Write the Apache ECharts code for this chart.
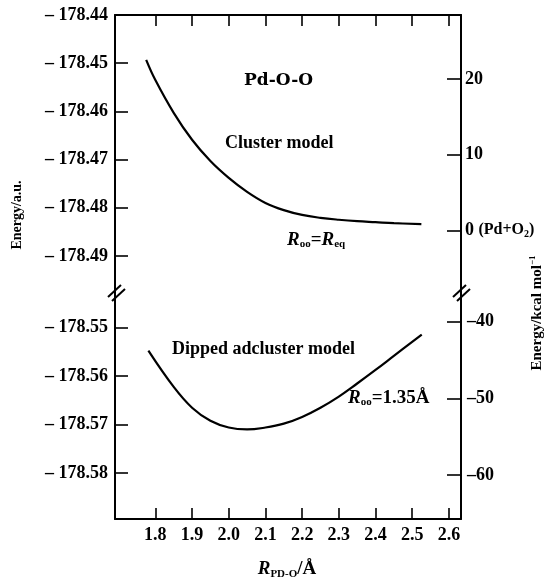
<!DOCTYPE html>
<html>
<head>
    <meta charset="utf-8">
    <title>Pd-O-O</title>
    <script src="https://cdn.jsdelivr.net/npm/echarts@6/dist/echarts.min.js"></script>
    <style>
        body { margin: 0; background: #fff; }
        #main { width: 557px; height: 580px; }
    </style>
</head>
<body>
<div id="main"></div>
<script type="text/javascript">
// data
var xTicks = [1.8, 1.9, 2.0, 2.1, 2.2, 2.3, 2.4, 2.5, 2.6];
var upperTicksAU = [-178.44, -178.45, -178.46, -178.47, -178.48, -178.49];
var lowerTicksAU = [-178.55, -178.56, -178.57, -178.58];
var upperTicksKcal = [20, 10, 0];
var lowerTicksKcal = [-40, -50, -60];

// cluster model (R_oo = R_eq)
var clusterR = [1.775, 1.80, 1.85, 1.90, 1.95, 2.00, 2.05, 2.10, 2.15, 2.20, 2.25, 2.30, 2.35, 2.40, 2.45, 2.525];
var clusterE = [-178.4493, -178.4535, -178.4603, -178.4659, -178.4703, -178.4738, -178.4767, -178.4790,
                -178.4805, -178.4815, -178.4821, -178.4825, -178.4828, -178.4830, -178.4832, -178.4834];

// dipped adcluster model (R_oo = 1.35 A)
var adR = [1.781, 1.85, 1.90, 1.95, 2.00, 2.05, 2.10, 2.15, 2.20, 2.25, 2.30, 2.35, 2.40, 2.45, 2.526];
var adE = [-178.5547, -178.5622, -178.5665, -178.5692, -178.5706, -178.5710, -178.5706, -178.5698,
           -178.5684, -178.5665, -178.5642, -178.5615, -178.5587, -178.5558, -178.5514];

function pairs(xs, ys) {
    var out = [];
    for (var i = 0; i < xs.length; i++) out.push([xs[i], ys[i]]);
    return out;
}

var FONT = 'Liberation Serif';
var black = '#000';
var lineAx = { show: true, onZero: false, lineStyle: { color: black, width: 2 } };
function tick(vals, len) {
    return { show: true, inside: true, length: len, customValues: vals, lineStyle: { color: black, width: 1.6 } };
}
var lblBase = { color: black, fontFamily: FONT, fontWeight: 'bold', fontSize: 18 };
function auFmt(v) { return '\u2013 ' + Math.abs(v).toFixed(2); }

var option = {
    animation: false,
    backgroundColor: '#fff',
    grid: [
        { left: 115, right: 96, top: 15, height: 278 },
        { left: 115, right: 96, top: 293, height: 226 }
    ],
    xAxis: [
        { gridIndex: 0, type: 'value', position: 'top', min: 1.69, max: 2.633,
          axisLine: lineAx, axisTick: tick(xTicks, 11), axisLabel: { show: false }, splitLine: { show: false } },
        { gridIndex: 1, type: 'value', position: 'bottom', min: 1.69, max: 2.633,
          axisLine: lineAx, axisTick: tick(xTicks, 11),
          axisLabel: Object.assign({ customValues: xTicks, margin: 7, formatter: function (v) { return v.toFixed(1); } }, lblBase),
          splitLine: { show: false } }
    ],
    yAxis: [
        { gridIndex: 0, type: 'value', position: 'left', min: -178.4977, max: -178.44,
          axisLine: lineAx, axisTick: tick(upperTicksAU, 13),
          axisLabel: Object.assign({ customValues: upperTicksAU, margin: 7, formatter: auFmt }, lblBase),
          splitLine: { show: false } },
        { gridIndex: 0, type: 'value', position: 'right', min: -8.3, max: 28.5,
          axisLine: lineAx, axisTick: tick(upperTicksKcal, 14),
          axisLabel: Object.assign({ customValues: upperTicksKcal, margin: 4,
              formatter: function (v) { return v === 0 ? '{b|0} {n|(Pd+O}{s|2}{n|)}' : String(v); },
              rich: {
                  b: { fontFamily: FONT, fontWeight: 'bold', fontSize: 18, color: black },
                  n: { fontFamily: FONT, fontWeight: 'bold', fontSize: 16, color: black },
                  s: { fontFamily: FONT, fontWeight: 'bold', fontSize: 10, color: black, verticalAlign: 'bottom', padding: [8, 0, 0, 0] }
              } }, lblBase),
          splitLine: { show: false } },
        { gridIndex: 1, type: 'value', position: 'left', min: -178.5895, max: -178.5428,
          axisLine: lineAx, axisTick: tick(lowerTicksAU, 13),
          axisLabel: Object.assign({ customValues: lowerTicksAU, margin: 7, formatter: auFmt }, lblBase),
          splitLine: { show: false } },
        { gridIndex: 1, type: 'value', position: 'right', min: -65.7, max: -36.3,
          axisLine: lineAx, axisTick: tick(lowerTicksKcal, 14),
          axisLabel: Object.assign({ customValues: lowerTicksKcal, margin: 6,
              formatter: function (v) { return '\u2013' + Math.abs(v); } }, lblBase),
          splitLine: { show: false } }
    ],
    series: [
        { name: 'Cluster model', type: 'line', xAxisIndex: 0, yAxisIndex: 0, smooth: 0.4, showSymbol: false,
          lineStyle: { color: black, width: 2.2 }, data: pairs(clusterR, clusterE) },
        { name: 'Dipped adcluster model', type: 'line', xAxisIndex: 1, yAxisIndex: 2, smooth: 0.4, showSymbol: false,
          lineStyle: { color: black, width: 2.2 }, data: pairs(adR, adE) }
    ],
    graphic: [
        // axis break marks
        { type: 'line', shape: { x1: 108, y1: 297, x2: 121, y2: 285 }, style: { stroke: black, lineWidth: 2 } },
        { type: 'line', shape: { x1: 112, y1: 301, x2: 125, y2: 289 }, style: { stroke: black, lineWidth: 2 } },
        { type: 'line', shape: { x1: 453, y1: 297, x2: 466, y2: 285 }, style: { stroke: black, lineWidth: 2 } },
        { type: 'line', shape: { x1: 457, y1: 301, x2: 470, y2: 289 }, style: { stroke: black, lineWidth: 2 } },
        // axis names
        { type: 'text', x: 17, y: 215, rotation: Math.PI / 2,
          style: { text: 'Energy/a.u.', fill: black, font: 'bold 14px "Liberation Serif"', textAlign: 'center', textVerticalAlign: 'middle' } },
        { type: 'text', x: 537, y: 313, rotation: Math.PI / 2,
          style: { text: '{n|Energy/kcal mol}{p|\u22121}', textAlign: 'center', textVerticalAlign: 'middle',
                   rich: { n: { fontFamily: FONT, fontWeight: 'bold', fontSize: 15, fill: black },
                           p: { fontFamily: FONT, fontWeight: 'bold', fontSize: 9, fill: black, verticalAlign: 'top', padding: [0, 0, 8, 0] } } } },
        { type: 'text', x: 287, y: 569,
          style: { text: '{i|R}{s|PD-O}{n|/\u00c5}', textAlign: 'center', textVerticalAlign: 'middle',
                   rich: { i: { fontFamily: FONT, fontWeight: 'bold', fontStyle: 'italic', fontSize: 19, fill: black },
                           s: { fontFamily: FONT, fontWeight: 'bold', fontSize: 11, fill: black, padding: [10, 0, 0, 0] },
                           n: { fontFamily: FONT, fontWeight: 'bold', fontSize: 19, fill: black } } } },
        // annotations
        { type: 'text', x: 244, y: 81,
          style: { text: 'Pd-O-O', fill: black, font: 'bold 17px "DejaVu Serif"', textVerticalAlign: 'middle' } },
        { type: 'text', x: 225, y: 143,
          style: { text: 'Cluster model', fill: black, font: 'bold 18px "Liberation Serif"', textVerticalAlign: 'middle' } },
        { type: 'text', x: 287, y: 240,
          style: { text: '{i|R}{s|oo}{n|=}{i|R}{s|eq}', textVerticalAlign: 'middle',
                   rich: { i: { fontFamily: FONT, fontWeight: 'bold', fontStyle: 'italic', fontSize: 19, fill: black },
                           s: { fontFamily: FONT, fontWeight: 'bold', fontSize: 11, fill: black, padding: [9, 0, 0, 0] },
                           n: { fontFamily: FONT, fontWeight: 'bold', fontSize: 19, fill: black } } } },
        { type: 'text', x: 172, y: 349,
          style: { text: 'Dipped adcluster model', fill: black, font: 'bold 18px "Liberation Serif"', textVerticalAlign: 'middle' } },
        { type: 'text', x: 348, y: 398,
          style: { text: '{i|R}{s|oo}{n|=1.35\u00c5}', textVerticalAlign: 'middle',
                   rich: { i: { fontFamily: FONT, fontWeight: 'bold', fontStyle: 'italic', fontSize: 19, fill: black },
                           s: { fontFamily: FONT, fontWeight: 'bold', fontSize: 11, fill: black, padding: [9, 0, 0, 0] },
                           n: { fontFamily: FONT, fontWeight: 'bold', fontSize: 19, fill: black } } } }
    ]
};

var myChart = echarts.init(document.getElementById('main'));
myChart.setOption(option);
</script>
</body>
</html>
